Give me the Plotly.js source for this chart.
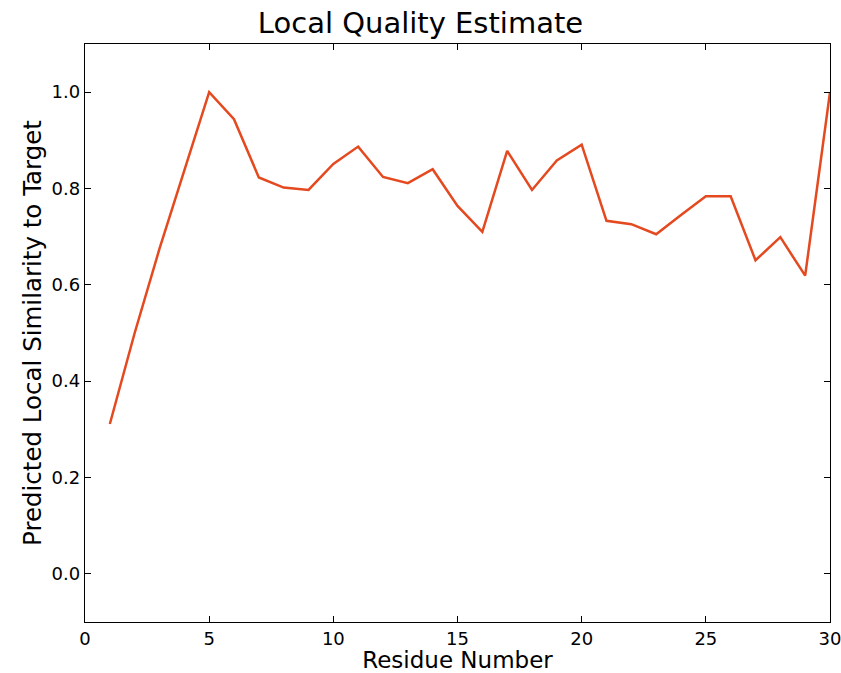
<!DOCTYPE html>
<html>
<head>
<meta charset="utf-8">
<script src="https://cdn.plot.ly/plotly-3.0.1.min.js"></script>
<style>html,body{margin:0;padding:0;background:#fff;}#chart{width:841px;height:673px;}</style>
</head>
<body>
<div id="chart"></div>
<script>
const residues = [1,2,3,4,5,6,7,8,9,10,11,12,13,14,15,16,17,18,19,20,21,22,23,24,25,26,27,28,29,30];
const similarity = [0.311,0.50,0.675,0.835,1.0,0.944,0.823,0.802,0.797,0.851,0.887,0.824,0.811,0.840,0.764,0.710,0.878,0.797,0.858,0.891,0.733,0.726,0.705,0.745,0.784,0.784,0.651,0.699,0.619,1.0];
const xTicks = [0,5,10,15,20,25,30];
const yTicks = [0.0,0.2,0.4,0.6,0.8,1.0];
const yTickText = ['0.0','0.2','0.4','0.6','0.8','1.0'];

const font = "DejaVu Sans, sans-serif";
const trace = {
  x: residues, y: similarity, type: 'scatter', mode: 'lines',
  line: {color: '#e4491f', width: 2.5}, hoverinfo: 'skip'
};
const axisCommon = {
  showline: true, linecolor: '#000', linewidth: 1.2, mirror: 'ticks',
  ticks: 'inside', ticklen: 6, tickcolor: '#000', tickwidth: 1,
  showgrid: false, zeroline: false, ticklabeloverflow: 'allow',
  tickfont: {family: font, size: 18, color: '#000'}
};
const layout = {
  width: 841, height: 673,
  margin: {l: 85, r: 11, t: 44, b: 51},
  paper_bgcolor: '#fff', plot_bgcolor: '#fff',
  showlegend: false,
  title: {text: 'Local Quality Estimate', font: {family: font, size: 29, color: '#000'}, x: 0.5, xanchor: 'center', y: 0.966, yanchor: 'middle'},
  xaxis: Object.assign({}, axisCommon, {
    range: [0, 30], tickvals: xTicks, ticktext: xTicks.map(String),
    title: {text: 'Residue Number', font: {family: font, size: 23, color: '#000'}, standoff: 7}
  }),
  yaxis: Object.assign({}, axisCommon, {
    range: [-0.1, 1.1], tickvals: yTicks, ticktext: yTickText,
    title: {text: 'Predicted Local Similarity to Target', font: {family: font, size: 24.5, color: '#000'}, standoff: 3}
  })
};
Plotly.newPlot('chart', [trace], layout, {staticPlot: true, displayModeBar: false});
</script>
</body>
</html>
